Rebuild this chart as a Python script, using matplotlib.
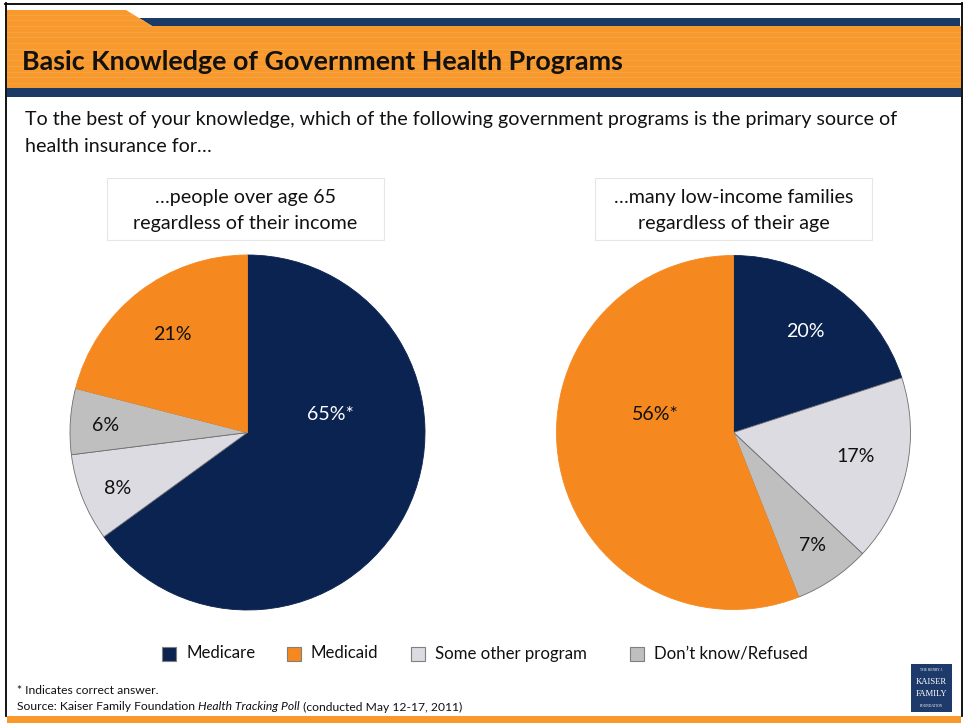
import matplotlib
matplotlib.use("Agg")
import matplotlib.pyplot as plt
from matplotlib.patches import Rectangle, Polygon

# ---- data -------------------------------------------------------------
categories = ["Medicare", "Medicaid", "Some other program", "Don\u2019t know/Refused"]
colors = ["#0B2350", "#F5891F", "#DCDBE2", "#BFBFBF"]

left_title = ["\u2026people over age 65", "regardless of their income"]
left_values = [65, 21, 8, 6]
left_correct = 0

right_title = ["\u2026many low-income families", "regardless of their age"]
right_values = [20, 56, 17, 7]
right_correct = 1

# slices go clockwise from 12 o'clock in this category order
slice_order = [0, 2, 3, 1]

# label centres, in units of the pie radius (x right, y up), per category
left_label_pos = [(0.47, 0.10), (-0.425, 0.55), (-0.73, -0.313), (-0.80, 0.042)]
right_label_pos = [(0.404, 0.568), (-0.444, 0.10), (0.692, -0.138), (0.444, -0.636)]

title = "Basic Knowledge of Government Health Programs"
question = ["To the best of your knowledge, which of the following government programs is the primary source of",
            "health insurance for\u2026"]
footnote = "* Indicates correct answer."
source_parts = ["Source: Kaiser Family Foundation ", "Health Tracking Poll", " (conducted May 12-17, 2011)"]

# ---- figure -----------------------------------------------------------
W, H = 967, 723
FONT = "Lato"
fig = plt.figure(figsize=(W / 100, H / 100), dpi=100)
renderer = fig.canvas.get_renderer()

bg = fig.add_axes([0, 0, 1, 1])
bg.set_xlim(0, W)
bg.set_ylim(H, 0)
bg.axis("off")


def text_width(s, size, **kw):
    t = bg.text(0, 0, s, fontsize=size, family=FONT, **kw)
    w = t.get_window_extent(renderer).width
    t.remove()
    return w


def fit(s, target, **kw):
    return 20 * target / text_width(s, 20, **kw)


BANNER_ORANGE = "#F7992D"
BANNER_NAVY = "#1B3A66"

# slide frame
bg.plot([5, 962], [3.5, 3.5], color="black", lw=1.3)
bg.plot([5.5, 5.5], [3, 716], color="black", lw=1.3)
bg.plot([961.5, 961.5], [3, 716], color="black", lw=1.3)

# header: navy strip, orange tab, orange band, navy underline
bg.add_patch(Polygon([(139, 18), (960, 18), (960, 26), (152, 26)], closed=True,
                     facecolor=BANNER_NAVY, edgecolor="none"))
bg.add_patch(Polygon([(6.5, 10), (126, 10), (152, 26), (6.5, 26)], closed=True,
                     facecolor=BANNER_ORANGE, edgecolor="none"))
bg.add_patch(Rectangle((6.5, 26), 954, 62, facecolor=BANNER_ORANGE, edgecolor="none"))
y = 14.5
while y < 88:
    x1 = 126 + (y - 10) * 26 / 16 if y < 26 else 960
    bg.plot([6.5, x1], [y, y], color="#FAAE55", lw=0.7, alpha=0.5)
    y += 5.7
bg.add_patch(Rectangle((6.5, 88), 954, 9, facecolor=BANNER_NAVY, edgecolor="none"))

# bottom orange band
bg.add_patch(Rectangle((6.5, 716), 954, 7, facecolor=BANNER_ORANGE, edgecolor="none"))

# title
ts = fit(title, 601, weight="bold")
bg.text(22, 62, title, fontsize=ts, family=FONT, weight="bold", color="#111111",
        ha="left", va="center")

# question
body = fit(question[0], 872)
bg.text(25, 120, question[0], fontsize=body, family=FONT, color="#111111", ha="left", va="center")
bg.text(25, 146, question[1], fontsize=body, family=FONT, color="#111111", ha="left", va="center")

# subtitle boxes
for (x0, x1), lines in [((107, 384), left_title), ((595, 872), right_title)]:
    bg.add_patch(Rectangle((x0, 178), x1 - x0, 62, facecolor="white",
                           edgecolor="#E6E6E6", lw=0.8))
    xc = (x0 + x1) / 2
    bg.text(xc, 198, lines[0], fontsize=body, family=FONT, color="#111111", ha="center", va="center")
    bg.text(xc, 223, lines[1], fontsize=body, family=FONT, color="#111111", ha="center", va="center")


# ---- pies -------------------------------------------------------------
def draw_pie(cx, cy, r, values, correct, label_pos):
    ax = fig.add_axes([(cx - r) / W, (H - cy - r) / H, 2 * r / W, 2 * r / H])
    vals = [values[i] for i in slice_order]
    cols = [colors[i] for i in slice_order]
    wedges, _ = ax.pie(vals, colors=cols, startangle=90, counterclock=False,
                       radius=1.0, wedgeprops=dict(linewidth=0.6))
    for w, i in zip(wedges, slice_order):
        if i >= 2:
            w.set_edgecolor("#6E6E6E")
        else:
            w.set_edgecolor(colors[i])
    ax.set_xlim(-1, 1)
    ax.set_ylim(-1, 1)
    ax.set_aspect("equal")
    ax.axis("off")
    for i, v in enumerate(values):
        lbl = f"{v}%" + ("*" if i == correct else "")
        dx, dy = label_pos[i]
        ax.text(dx, dy, lbl, fontsize=body, family=FONT,
                color="white" if i == 0 else "#111111", ha="center", va="center")
    return ax


draw_pie(247.5, 432.5, 177.5, left_values, left_correct, left_label_pos)
draw_pie(733.5, 432.5, 177.0, right_values, right_correct, right_label_pos)

# ---- legend -----------------------------------------------------------
leg_fs = fit("".join(categories), 444)
legend_x = [162, 287, 411, 630]
for x, name, c in zip(legend_x, categories, colors):
    bg.add_patch(Rectangle((x, 646.5), 14, 14, facecolor=c, edgecolor="#7F7F7F", lw=0.8))
    bg.text(x + 24, 653.5, name, fontsize=leg_fs, family=FONT, color="#111111",
            ha="left", va="center")

# ---- footer -----------------------------------------------------------
fs = fit("".join(source_parts), 450)
bg.text(17, 691, footnote, fontsize=fs, family=FONT, color="#111111", ha="left", va="center")
x = 17
for k, part in enumerate(source_parts):
    style = "italic" if k == 1 else "normal"
    bg.text(x, 707, part, fontsize=fs, family=FONT, style=style, color="#111111",
            ha="left", va="center")
    x += text_width(part, fs, style=style)

# foundation logo
bg.add_patch(Rectangle((911, 664), 41, 48, facecolor="#1D3A6B", edgecolor="none"))
for yy, s, sz in [(670, "THE HENRY J.", 2.6), (682, "KAISER", 6.2),
                  (694, "FAMILY", 6.2), (706, "FOUNDATION", 2.6)]:
    bg.text(931.5, yy, s, fontsize=sz, family="Liberation Serif", color="white",
            ha="center", va="center")

fig.savefig("out.png", dpi=100)
